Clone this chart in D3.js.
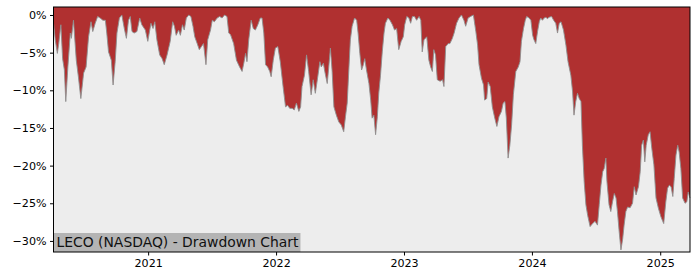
<!DOCTYPE html>
<html>
<head>
<meta charset="utf-8">
<script src="https://cdn.jsdelivr.net/npm/d3@7"></script>
<style>
  body { margin: 0; background: #fff; }
  svg { display: block; font-family: "DejaVu Sans", sans-serif; }
</style>
</head>
<body>
<div id="chart"></div>
<script>
// Drawdown series (percent below running peak)
const dates = [
  "2020-04-06","2020-04-11","2020-04-17","2020-04-21","2020-04-27","2020-05-02","2020-05-07","2020-05-11",
  "2020-05-17","2020-05-24","2020-05-27","2020-06-02","2020-06-10","2020-06-16","2020-06-23","2020-07-01",
  "2020-07-08","2020-07-15","2020-07-22","2020-07-27","2020-08-03","2020-08-10","2020-08-17","2020-08-25",
  "2020-09-01","2020-09-05","2020-09-10","2020-09-18","2020-09-23","2020-09-29","2020-10-04","2020-10-11",
  "2020-10-18","2020-10-25","2020-10-31","2020-11-06","2020-11-11","2020-11-16","2020-11-22","2020-11-30",
  "2020-12-08","2020-12-14","2020-12-24","2020-12-31","2021-01-09","2021-01-15","2021-01-20","2021-01-26",
  "2021-02-03","2021-02-10","2021-02-16","2021-02-24","2021-03-05","2021-03-12","2021-03-17","2021-03-22",
  "2021-03-29","2021-04-03","2021-04-09","2021-04-14","2021-04-20","2021-04-27","2021-05-03","2021-05-09",
  "2021-05-14","2021-05-21","2021-05-27","2021-06-02","2021-06-08","2021-06-15","2021-06-20","2021-06-28",
  "2021-07-03","2021-07-09","2021-07-17","2021-07-24","2021-07-31","2021-08-07","2021-08-14","2021-08-19",
  "2021-08-24","2021-09-02","2021-09-10","2021-09-19","2021-09-26","2021-10-01","2021-10-06","2021-10-10",
  "2021-10-15","2021-10-22","2021-10-28","2021-11-03","2021-11-10","2021-11-17","2021-11-22","2021-11-27",
  "2021-12-02","2021-12-08","2021-12-14","2021-12-18","2021-12-24","2021-12-30","2022-01-06","2022-01-13",
  "2022-01-21","2022-01-28","2022-02-03","2022-02-09","2022-02-16","2022-02-22","2022-02-28","2022-03-07",
  "2022-03-12","2022-03-16","2022-03-23","2022-03-29","2022-04-04","2022-04-11","2022-04-17","2022-04-23",
  "2022-04-30","2022-05-06","2022-05-10","2022-05-16","2022-05-20","2022-05-27","2022-05-31","2022-06-05",
  "2022-06-10","2022-06-15","2022-06-22","2022-06-29","2022-07-06","2022-07-13","2022-07-18","2022-07-23",
  "2022-07-28","2022-08-01","2022-08-06","2022-08-13","2022-08-19","2022-08-23","2022-08-28","2022-09-02",
  "2022-09-07","2022-09-11","2022-09-16","2022-09-23","2022-09-28","2022-10-02","2022-10-07","2022-10-12",
  "2022-10-17","2022-10-21","2022-10-26","2022-10-31","2022-11-05","2022-11-09","2022-11-16","2022-11-22",
  "2022-11-29","2022-12-05","2022-12-11","2022-12-17","2022-12-24","2022-12-30","2023-01-03","2023-01-09",
  "2023-01-15","2023-01-20","2023-01-25","2023-01-31","2023-02-06","2023-02-13","2023-02-18","2023-02-22",
  "2023-02-27","2023-03-07","2023-03-13","2023-03-18","2023-03-23","2023-03-27","2023-04-01","2023-04-06",
  "2023-04-14","2023-04-21","2023-04-25","2023-04-30","2023-05-07","2023-05-12","2023-05-19","2023-05-24",
  "2023-05-31","2023-06-07","2023-06-14","2023-06-21","2023-06-26","2023-07-03","2023-07-10","2023-07-18",
  "2023-07-25","2023-07-30","2023-08-03","2023-08-10","2023-08-16","2023-08-19","2023-08-25","2023-08-29",
  "2023-09-04","2023-09-10","2023-09-17","2023-09-23","2023-09-29","2023-10-06","2023-10-11","2023-10-16",
  "2023-10-20","2023-10-25","2023-10-30","2023-11-04","2023-11-09","2023-11-16","2023-11-23","2023-11-28",
  "2023-12-02","2023-12-08","2023-12-13","2023-12-17","2023-12-24","2023-12-29","2024-01-03","2024-01-07",
  "2024-01-12","2024-01-17","2024-01-22","2024-01-26","2024-01-31","2024-02-05","2024-02-10","2024-02-14",
  "2024-02-19","2024-02-26","2024-03-03","2024-03-09","2024-03-14","2024-03-19","2024-03-24","2024-03-31",
  "2024-04-07","2024-04-13","2024-04-21","2024-04-26","2024-04-30","2024-05-05","2024-05-10","2024-05-15",
  "2024-05-20","2024-05-24","2024-05-29","2024-06-03","2024-06-08","2024-06-15","2024-06-22","2024-06-29",
  "2024-07-06","2024-07-11","2024-07-16","2024-07-21","2024-07-25","2024-07-30","2024-08-02","2024-08-08",
  "2024-08-13","2024-08-18","2024-08-23","2024-08-28","2024-09-01","2024-09-06","2024-09-11","2024-09-16",
  "2024-09-20","2024-09-25","2024-09-30","2024-10-07","2024-10-14","2024-10-19","2024-10-24","2024-10-31",
  "2024-11-05","2024-11-09","2024-11-14","2024-11-18","2024-11-22","2024-11-28","2024-12-03","2024-12-08",
  "2024-12-14","2024-12-20","2024-12-27","2025-01-03","2025-01-11","2025-01-17","2025-01-22","2025-01-27",
  "2025-02-01","2025-02-06","2025-02-10","2025-02-15","2025-02-20","2025-02-24","2025-03-01","2025-03-06",
  "2025-03-13","2025-03-18","2025-03-22","2025-03-27"
];

const drawdown = [
  -1.1,-3.3,-5.1,-3.8,-1.3,-5.8,-7.3,-11.5,
  -6.9,-2.4,-3.1,-0.7,-6.0,-8.2,-11.1,-7.7,
  -6.9,-2.9,-0.9,-2.2,-1.1,-0.2,-0.4,-0.7,
  -0.7,-2.4,-4.9,-6.0,-9.3,-6.2,-2.4,-0.4,
  0,-1.8,-3.1,-0.7,-0.2,-2.2,-2.4,-2.2,
  -0.4,-1.3,-2.0,-3.5,-1.1,-1.8,-0.9,-3.3,
  -5.3,-5.8,-6.6,-5.3,-3.5,-0.9,-1.5,-2.7,
  -2.0,-2.7,-1.3,-2.0,-0.4,0,-0.2,-1.5,
  -2.9,-3.8,-4.6,-4.2,-3.8,-6.6,-3.3,-2.0,
  -0.7,-0.9,-0.4,-0.2,-0.4,0,-0.2,-2.4,
  -2.6,-3.8,-6.0,-6.9,-7.5,-6.4,-5.1,-6.2,
  -3.3,-0.7,-1.8,-2.0,-1.3,-0.4,-0.4,-2.4,
  -6.6,-6.9,-7.5,-8.2,-6.0,-4.4,-4.2,-6.2,
  -9.5,-12.2,-12.0,-12.4,-12.4,-12.6,-11.7,-12.8,
  -12.2,-9.5,-8.0,-5.3,-7.5,-10.6,-8.6,-10.4,
  -8.2,-6.2,-6.9,-6.4,-7.5,-9.1,-7.1,-4.4,
  -7.5,-12.2,-13.3,-14.2,-14.6,-15.5,-13.5,-11.7,
  -6.9,-3.3,-1.5,-0.4,-0.7,-2.4,-5.1,-7.3,
  -6.6,-5.8,-7.3,-9.1,-11.3,-13.7,-13.3,-15.9,
  -13.5,-10.4,-8.0,-4.9,-2.4,-1.1,-0.4,-0.7,
  -1.3,-2.0,-1.8,-4.6,-3.5,-2.9,-1.3,-0.2,
  -0.4,-1.1,-0.2,-0.2,-0.7,-0.2,-0.7,-4.9,
  -3.3,-2.9,-6.0,-6.9,-7.5,-4.6,-5.3,-8.6,
  -8.8,-8.6,-9.5,-4.2,-3.8,-3.8,-3.1,-2.4,
  -1.1,-0.4,0,-0.7,-1.5,-0.4,-0.2,0,
  -2.2,-4.0,-6.6,-8.4,-9.3,-11.3,-11.1,-8.9,
  -9.5,-12.2,-13.7,-14.8,-13.5,-12.8,-11.7,-11.5,
  -13.7,-19.0,-17.3,-14.6,-10.6,-7.5,-6.9,-6.2,
  -3.5,-1.8,-0.7,-0.2,-0.4,-0.7,-2.7,-3.3,
  -3.8,-2.2,-0.9,-0.4,-0.7,-0.4,-0.3,-0.5,
  -0.3,-0.2,-0.7,-1.1,-2.4,-1.1,-0.9,-2.0,
  -4.0,-6.2,-8.0,-10.2,-13.3,-11.5,-10.4,-11.1,
  -11.5,-17.3,-22.1,-25.2,-26.6,-28.1,-27.7,-27.4,
  -27.9,-25.2,-22.6,-20.8,-20.4,-19.0,-22.1,-25.2,
  -26.1,-24.8,-23.7,-24.3,-26.1,-28.8,-31.2,-29.7,
  -27.9,-26.1,-25.5,-25.6,-25.0,-22.8,-23.9,-22.8,
  -20.8,-17.3,-16.6,-19.5,-17.3,-15.9,-15.5,-17.7,
  -19.9,-24.3,-25.7,-26.8,-27.7,-24.8,-23.0,-22.6,
  -22.8,-24.1,-21.7,-18.6,-17.3,-18.2,-20.4,-24.3,
  -25.0,-24.8,-23.5,-24.3
];

const yTicks = [0, -5, -10, -15, -20, -25, -30];
const xTickYears = [2021, 2022, 2023, 2024, 2025];
const chartLabel = "LECO (NASDAQ) - Drawdown Chart";

const width = 700, height = 280;
const margin = { top: 7, right: 10, bottom: 28, left: 53.5 };

const parse = d3.timeParse("%Y-%m-%d");
const data = dates.map((d, i) => ({ date: parse(d), dd: drawdown[i] }));

const x = d3.scaleTime()
  .domain(d3.extent(data, d => d.date))
  .range([margin.left, width - margin.right]);

const y = d3.scaleLinear()
  .domain([-31.47, 1.06])
  .range([height - margin.bottom, margin.top]);

const svg = d3.select("#chart").append("svg")
  .attr("width", width)
  .attr("height", height);

// red backdrop above the curve, light grey below it
svg.append("rect")
  .attr("x", margin.left).attr("y", margin.top)
  .attr("width", width - margin.left - margin.right)
  .attr("height", height - margin.top - margin.bottom)
  .attr("fill", "#b03030");

svg.append("path")
  .datum(data)
  .attr("fill", "#ededed")
  .attr("d", d3.area().x(d => x(d.date)).y0(height - margin.bottom).y1(d => y(d.dd)));

svg.append("path")
  .datum(data)
  .attr("fill", "none")
  .attr("stroke", "#8f8f8f")
  .attr("stroke-width", 0.9)
  .attr("d", d3.line().x(d => x(d.date)).y(d => y(d.dd)));

// label box
const labelG = svg.append("g");
const labelBg = labelG.append("rect").attr("fill", "#b4b4b4");
const labelText = labelG.append("text")
  .attr("x", margin.left + 3)
  .attr("y", height - margin.bottom - 5)
  .attr("font-size", 13.9)
  .attr("fill", "#111")
  .text(chartLabel);
const tw = labelText.node().getComputedTextLength();
labelBg.attr("x", margin.left).attr("y", height - margin.bottom - 19)
  .attr("width", tw + 5).attr("height", 19);

// axes
const fmt = d => (d < 0 ? "\u2212" + Math.abs(d) : d) + "%";
const yAxis = svg.append("g")
  .attr("transform", `translate(${margin.left},0)`)
  .call(d3.axisLeft(y).tickValues(yTicks).tickFormat(fmt).tickSize(3.5).tickPadding(3.5));

const xAxis = svg.append("g")
  .attr("transform", `translate(0,${height - margin.bottom})`)
  .call(d3.axisBottom(x)
    .tickValues(xTickYears.map(yr => new Date(yr, 0, 1)))
    .tickFormat(d3.timeFormat("%Y"))
    .tickSize(3.5).tickPadding(3.5));

[xAxis, yAxis].forEach(g => {
  g.select(".domain").remove();
  g.selectAll("text").attr("font-size", 11.1).attr("fill", "#000").attr("font-family", "DejaVu Sans, sans-serif");
  g.selectAll("line").attr("stroke", "#000");
});

// frame
svg.append("rect")
  .attr("x", margin.left).attr("y", margin.top)
  .attr("width", width - margin.left - margin.right)
  .attr("height", height - margin.top - margin.bottom)
  .attr("fill", "none")
  .attr("stroke", "#000")
  .attr("stroke-width", 1);
</script>
</body>
</html>
